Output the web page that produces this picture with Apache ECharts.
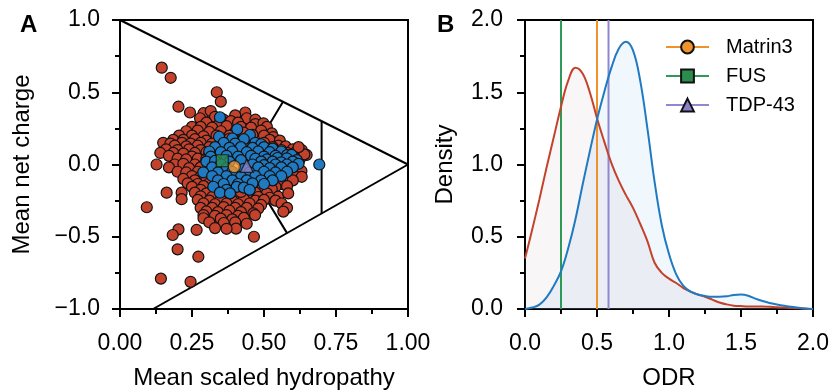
<!DOCTYPE html>
<html><head><meta charset="utf-8">
<script src="https://cdn.jsdelivr.net/npm/echarts@6/dist/echarts.min.js"></script>
<style>html,body{margin:0;padding:0;background:#fff}#c{width:832px;height:390px}</style>
</head><body><div id="c"></div>
<script>
// ---------- Panel A data ----------
const hydroTicks = ['0.00', '0.25', '0.50', '0.75', '1.00'];
const chargeTicks = ['\u22121.0', '\u22120.5', '0.0', '0.5', '1.0'];

const redPoints = [
  [0.145,0.67],[0.176,0.60],[0.336,0.50],[0.35,0.435],[0.203,0.40],
  [0.243,0.36],[0.29,0.355],[0.315,0.37],[0.435,0.36],[0.40,0.34],
  [0.278,0.32],[0.33,0.33],[0.36,0.31],[0.44,0.32],[0.385,0.30],[0.47,0.31],
  [0.30,0.29],[0.345,0.28],[0.41,0.29],[0.47,0.28],[0.498,0.285],
  [0.25,0.26],[0.28,0.26],[0.32,0.255],[0.37,0.265],[0.42,0.26],[0.455,0.255],[0.51,0.26],
  [0.23,0.23],[0.27,0.235],[0.31,0.225],[0.35,0.23],[0.40,0.225],[0.49,0.235],[0.527,0.215],
  [0.205,0.20],[0.25,0.20],[0.29,0.195],[0.335,0.20],[0.38,0.20],[0.46,0.205],[0.532,0.19],[0.50,0.20],
  [0.185,0.17],[0.22,0.17],[0.26,0.175],[0.30,0.165],[0.35,0.17],[0.40,0.165],[0.44,0.17],[0.52,0.17],[0.555,0.165],
  [0.15,0.15],[0.175,0.145],[0.215,0.15],[0.245,0.145],[0.28,0.15],[0.32,0.145],[0.36,0.14],
  [0.19,0.13],[0.23,0.125],[0.27,0.13],[0.31,0.12],[0.55,0.13],[0.575,0.125],
  [0.16,0.105],[0.20,0.10],[0.24,0.105],[0.28,0.10],[0.60,0.105],[0.631,0.10],
  [0.14,0.08],[0.185,0.08],[0.22,0.075],[0.26,0.08],[0.30,0.085],[0.58,0.08],[0.61,0.085],
  [0.648,0.066],[0.17,0.06],[0.25,0.055],
  [0.20,0.04],[0.23,0.035],[0.27,0.04],[0.30,0.04],[0.60,0.045],[0.625,0.04],
  [0.127,0.0],[0.19,0.0],[0.22,0.005],[0.26,0.0],[0.29,-0.005],
  [0.17,-0.02],[0.24,-0.025],[0.28,-0.02],[0.60,-0.02],
  [0.20,-0.05],[0.23,-0.055],[0.27,-0.05],[0.30,-0.06],[0.58,-0.05],[0.61,-0.055],[0.63,-0.045],
  [0.607,-0.08],[0.631,-0.085],[0.25,-0.08],[0.28,-0.085],[0.55,-0.08],
  [0.22,-0.10],[0.26,-0.11],[0.30,-0.10],[0.54,-0.105],[0.57,-0.10],[0.60,-0.11],
  [0.235,-0.13],[0.27,-0.135],[0.31,-0.13],[0.52,-0.13],[0.56,-0.135],
  [0.25,-0.155],[0.29,-0.15],[0.33,-0.16],[0.50,-0.15],[0.54,-0.155],[0.58,-0.15],
  [0.28,-0.175],[0.32,-0.18],[0.49,-0.175],[0.527,-0.17],
  [0.162,-0.195],[0.214,-0.195],[0.26,-0.195],[0.30,-0.20],[0.34,-0.21],[0.47,-0.195],[0.51,-0.20],[0.549,-0.223],[0.584,-0.20],
  [0.28,-0.22],[0.32,-0.225],[0.36,-0.22],[0.40,-0.225],[0.44,-0.215],[0.48,-0.225],[0.52,-0.23],
  [0.214,-0.24],[0.27,-0.245],[0.31,-0.25],[0.35,-0.245],[0.39,-0.25],[0.43,-0.24],[0.47,-0.25],[0.50,-0.245],[0.54,-0.25],
  [0.29,-0.27],[0.33,-0.275],[0.37,-0.27],[0.41,-0.275],[0.45,-0.27],[0.49,-0.28],[0.561,-0.27],
  [0.093,-0.296],[0.28,-0.30],[0.32,-0.30],[0.36,-0.295],[0.40,-0.30],[0.44,-0.30],[0.48,-0.305],[0.58,-0.30],
  [0.30,-0.325],[0.34,-0.33],[0.38,-0.32],[0.42,-0.33],[0.463,-0.338],[0.567,-0.326],
  [0.29,-0.35],[0.33,-0.355],[0.37,-0.35],[0.41,-0.355],[0.469,-0.35],
  [0.29,-0.372],[0.35,-0.375],[0.39,-0.38],[0.43,-0.37],
  [0.31,-0.40],[0.36,-0.405],[0.40,-0.40],[0.44,-0.41],
  [0.403,-0.444],[0.33,-0.44],[0.37,-0.445],
  [0.266,-0.453],[0.203,-0.449],[0.183,-0.488],[0.465,-0.50],
  [0.20,-0.587],[0.272,-0.638],[0.142,-0.79],[0.245,-0.812],
  [0.33,0.10],[0.37,0.05],[0.41,0.10],[0.45,0.12],[0.50,0.15],[0.43,0.22],[0.38,0.18],
  [0.35,-0.10],[0.40,-0.12],[0.45,-0.17],[0.50,-0.10],[0.55,-0.05],[0.42,-0.19],[0.38,-0.15],
  [0.56,0.10],[0.53,0.12],[0.59,0.03],[0.57,0.07],[0.62,0.02],[0.64,0.07],[0.62,0.12],
  [0.33,-0.04],[0.36,0.02],[0.31,0.07]
];

const bluePoints = [
  [0.347,0.327],[0.407,0.244],[0.451,0.204],[0.344,0.192],
  [0.39,0.18],[0.43,0.175],
  [0.36,0.15],[0.40,0.145],[0.47,0.15],[0.49,0.14],
  [0.33,0.12],[0.38,0.115],[0.42,0.12],[0.46,0.115],[0.50,0.12],[0.53,0.11],
  [0.31,0.09],[0.35,0.085],[0.39,0.09],[0.44,0.085],[0.48,0.09],[0.52,0.085],[0.56,0.09],
  [0.315,0.054],[0.37,0.06],[0.41,0.055],[0.455,0.06],[0.50,0.055],[0.54,0.06],[0.58,0.065],[0.596,0.066],
  [0.47,0.04],[0.51,0.035],[0.547,0.045],[0.579,0.043],[0.614,0.03],
  [0.30,0.02],[0.33,0.025],[0.38,0.02],[0.42,0.03],[0.49,0.02],[0.53,0.02],[0.56,0.015],[0.60,0.02],
  [0.35,0.0],[0.46,0.0],[0.50,-0.005],[0.54,0.0],[0.58,0.0],[0.62,0.005],[0.692,0.0],
  [0.32,-0.02],[0.37,-0.025],[0.43,-0.03],[0.48,-0.02],[0.52,-0.025],[0.56,-0.02],[0.60,-0.02],
  [0.289,-0.054],[0.34,-0.055],[0.39,-0.05],[0.45,-0.055],[0.50,-0.05],[0.54,-0.055],[0.58,-0.05],
  [0.32,-0.08],[0.37,-0.08],[0.42,-0.085],[0.47,-0.08],[0.52,-0.08],[0.56,-0.08],
  [0.34,-0.11],[0.39,-0.11],[0.44,-0.11],[0.49,-0.11],[0.53,-0.11],
  [0.36,-0.135],[0.41,-0.135],[0.46,-0.13],[0.50,-0.135],
  [0.324,-0.154],[0.405,-0.155],[0.43,-0.16],
  [0.37,-0.175],[0.45,-0.175],
  [0.347,-0.195],[0.382,-0.20]
];

const matrin3Point = [[0.397, -0.015]];
const fusPoint = [[0.355, 0.026]];
const tdp43Point = [[0.44, -0.01]];

const upperBoundary = [[0, 1], [1, 0]];
const lowerBoundary = [[0.115, -1], [1, 0]];
const regionLineUpper = [[0.435, 0], [0.566, 0.434]];
const regionLineLower = [[0.435, 0], [0.58, -0.475]];
const regionLineVertical = [[0.70, 0.30], [0.70, -0.339]];

// ---------- Panel B data ----------
const odrTicks = ['0.0', '0.5', '1.0', '1.5', '2.0'];
const densityTicks = ['0.0', '0.5', '1.0', '1.5', '2.0'];
const odrValues = [0,0.05,0.1,0.15,0.2,0.25,0.3,0.35,0.4,0.45,0.5,0.55,0.6,0.65,0.7,0.75,0.8,0.85,0.9,0.95,
  1.0,1.05,1.1,1.15,1.2,1.25,1.3,1.35,1.4,1.45,1.5,1.55,1.6,1.65,1.7,1.75,1.8,1.85,1.9,1.95,2.0];
const redDensity = [0.35,0.55,0.76,0.98,1.19,1.40,1.58,1.67,1.63,1.50,1.32,1.16,1.01,0.89,0.79,0.70,0.59,0.47,0.32,0.25,
  0.21,0.18,0.145,0.12,0.10,0.085,0.065,0.045,0.032,0.023,0.02,0.018,0.018,0.017,0.015,0.012,0.01,0.007,0.005,0.002,0.0];
const blueDensity = [0.0,0.01,0.03,0.08,0.16,0.26,0.42,0.62,0.86,1.09,1.31,1.50,1.67,1.80,1.85,1.79,1.58,1.25,0.88,0.58,
  0.38,0.24,0.16,0.12,0.10,0.09,0.085,0.085,0.088,0.097,0.10,0.092,0.072,0.055,0.042,0.031,0.022,0.015,0.009,0.004,0.0];
const odrMatrin3 = 0.50;
const odrFUS = 0.25;
const odrTDP43 = 0.58;
const densityRange = [0, 2];

// ---------- styling ----------
const FONT = '"Liberation Sans", Arial, Helvetica, sans-serif';
const RED = '#c4422c', BLUE = '#1f7ac2';
const ORANGE = '#ef932e', GREEN = '#2b8c4e', PURPLE = '#8b80c6';
const ORANGE_L = '#ef922c', GREEN_L = '#2f9a58', PURPLE_L = '#9088cf';

const zip = (xs, ys) => xs.map((x, i) => [x, ys[i]]);

function makeAxis(ticks, min, max, interval, margin, extra) {
  return Object.assign({
    type: 'value', min: min, max: max, interval: interval,
    axisLine: { show: true, onZero: false, lineStyle: { color: '#000', width: 2 } },
    axisTick: { show: true, length: 8, lineStyle: { color: '#000', width: 2 } },
    minorTick: { show: true, splitNumber: 2, length: 5, lineStyle: { color: '#000', width: 2 } },
    splitLine: { show: false },
    axisLabel: {
      color: '#000', fontSize: 23, fontFamily: FONT, margin: margin,
      formatter: v => ticks[Math.round((v - min) / interval)]
    },
    nameLocation: 'middle',
    nameTextStyle: { color: '#000', fontSize: 24, fontFamily: FONT }
  }, extra);
}

const blackLine = (data) => ({
  type: 'line', xAxisIndex: 0, yAxisIndex: 0, data: data, symbol: 'none',
  lineStyle: { color: '#000', width: 2 }, silent: true, z: 1, animation: false
});

const chart = echarts.init(document.getElementById('c'), null, { renderer: 'canvas' });
chart.setOption({
  animation: false,
  backgroundColor: '#fff',
  grid: [
    { left: 120, top: 20, width: 288, height: 289, show: true, borderColor: '#000', borderWidth: 2,
      containLabel: false, outerBoundsMode: 'none' },
    { left: 525, top: 20, width: 288, height: 289, show: true, borderColor: '#000', borderWidth: 2,
      containLabel: false, outerBoundsMode: 'none' }
  ],
  xAxis: [
    makeAxis(hydroTicks, 0, 1, 0.25, 23, { gridIndex: 0, name: 'Mean scaled hydropathy', nameGap: 57 }),
    makeAxis(odrTicks, 0, 2, 0.5, 23, { gridIndex: 1, name: 'ODR', nameGap: 57 })
  ],
  yAxis: [
    makeAxis(chargeTicks, -1, 1, 0.5, 20, { gridIndex: 0, name: 'Mean net charge', nameGap: 86 }),
    makeAxis(densityTicks, 0, 2, 0.5, 22, { gridIndex: 1, name: 'Density', nameGap: 68 })
  ],
  legend: {
    data: ['Matrin3', 'FUS', 'TDP-43'],
    orient: 'vertical', left: 660, top: 32, padding: 5,
    itemWidth: 43, itemHeight: 16, itemGap: 9,
    textStyle: { color: '#000', fontSize: 20, fontFamily: FONT, lineHeight: 20, padding: [0, 0, 0, 12] },
    selectedMode: false
  },
  graphic: [
    { type: 'text', left: 20, top: 13, style: { text: 'A', font: 'bold 24px ' + FONT, fill: '#000' } },
    { type: 'text', left: 437, top: 13, style: { text: 'B', font: 'bold 24px ' + FONT, fill: '#000' } }
  ],
  series: [
    blackLine(upperBoundary), blackLine(lowerBoundary),
    blackLine(regionLineUpper), blackLine(regionLineLower), blackLine(regionLineVertical),
    { type: 'scatter', name: 'proteome', xAxisIndex: 0, yAxisIndex: 0, data: redPoints, symbolSize: 11, z: 3,
      itemStyle: { color: RED, borderColor: '#111', borderWidth: 1.2, opacity: 1 } },
    { type: 'scatter', name: 'subset', xAxisIndex: 0, yAxisIndex: 0, data: bluePoints, symbolSize: 11, z: 4,
      itemStyle: { color: BLUE, borderColor: '#111', borderWidth: 1.2, opacity: 1 } },
    { type: 'scatter', name: 'FUS-A', xAxisIndex: 0, yAxisIndex: 0, data: fusPoint, symbol: 'rect', symbolSize: 12, z: 5,
      itemStyle: { color: GREEN, borderColor: '#111', borderWidth: 1.2 } },
    { type: 'scatter', name: 'Matrin3-A', xAxisIndex: 0, yAxisIndex: 0, data: matrin3Point, symbol: 'circle', symbolSize: 12, z: 5,
      itemStyle: { color: ORANGE, borderColor: '#111', borderWidth: 1.2 } },
    { type: 'scatter', name: 'TDP-43-A', xAxisIndex: 0, yAxisIndex: 0, data: tdp43Point, symbol: 'triangle', symbolSize: 13, z: 5,
      itemStyle: { color: PURPLE, borderColor: '#111', borderWidth: 1.2 } },

    { type: 'line', name: 'blueFill', xAxisIndex: 1, yAxisIndex: 1, data: zip(odrValues, blueDensity), smooth: 0.4,
      symbol: 'none', lineStyle: { width: 0 }, areaStyle: { color: 'rgba(160,200,240,0.22)' }, z: 1, silent: true },
    { type: 'line', name: 'redFill', xAxisIndex: 1, yAxisIndex: 1, data: zip(odrValues, redDensity), smooth: 0.4,
      symbol: 'none', lineStyle: { width: 0 }, areaStyle: { color: 'rgba(170,155,145,0.12)' }, z: 1, silent: true },
    { type: 'line', name: 'Matrin3', xAxisIndex: 1, yAxisIndex: 1, data: [[odrMatrin3, densityRange[0]], [odrMatrin3, densityRange[1]]],
      symbol: 'circle', showSymbol: false, lineStyle: { color: ORANGE_L, width: 2 },
      itemStyle: { color: ORANGE, borderColor: '#111', borderWidth: 1.2 }, z: 2 },
    { type: 'line', name: 'FUS', xAxisIndex: 1, yAxisIndex: 1, data: [[odrFUS, densityRange[0]], [odrFUS, densityRange[1]]],
      symbol: 'rect', showSymbol: false, lineStyle: { color: GREEN_L, width: 2 },
      itemStyle: { color: GREEN, borderColor: '#111', borderWidth: 1.2 }, z: 2 },
    { type: 'line', name: 'TDP-43', xAxisIndex: 1, yAxisIndex: 1, data: [[odrTDP43, densityRange[0]], [odrTDP43, densityRange[1]]],
      symbol: 'triangle', showSymbol: false, lineStyle: { color: PURPLE_L, width: 2 },
      itemStyle: { color: PURPLE, borderColor: '#111', borderWidth: 1.2 }, z: 2 },
    { type: 'line', name: 'redCurve', xAxisIndex: 1, yAxisIndex: 1, data: zip(odrValues, redDensity), smooth: 0.4,
      symbol: 'none', lineStyle: { color: RED, width: 2 }, z: 3, silent: true },
    { type: 'line', name: 'blueCurve', xAxisIndex: 1, yAxisIndex: 1, data: zip(odrValues, blueDensity), smooth: 0.4,
      symbol: 'none', lineStyle: { color: BLUE, width: 2 }, z: 3, silent: true }
  ]
});
</script>
</body></html>
